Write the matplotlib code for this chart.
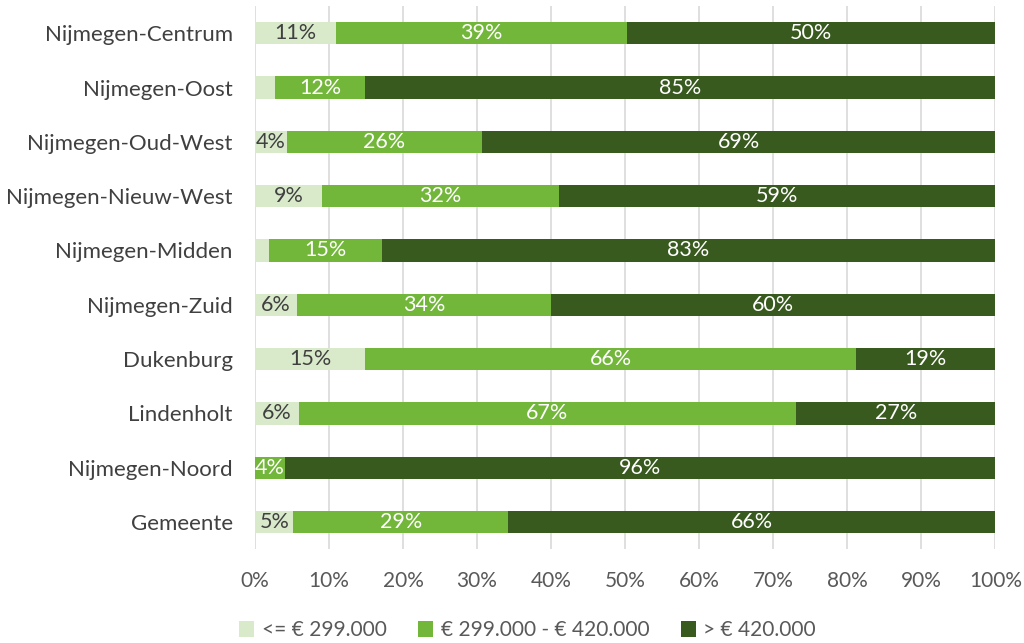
import matplotlib.pyplot as plt
import numpy as np

plt.rcParams['font.family'] = ['Lato', 'DejaVu Sans']

regions = ['Nijmegen-Centrum', 'Nijmegen-Oost', 'Nijmegen-Oud-West', 'Nijmegen-Nieuw-West',
           'Nijmegen-Midden', 'Nijmegen-Zuid', 'Dukenburg', 'Lindenholt', 'Nijmegen-Noord', 'Gemeente']
low = [10.9, 2.7, 4.3, 9.1, 1.9, 5.7, 14.9, 5.9, 0.0, 5.2]
mid = [39.4, 12.2, 26.4, 31.9, 15.2, 34.3, 66.3, 67.2, 4.1, 29.0]
high = [49.7, 85.1, 69.3, 59.0, 82.9, 60.0, 18.8, 26.9, 95.9, 65.8]
series_names = ['<= € 299.000', '€ 299.000 - € 420.000', '> € 420.000']
colors = ['#D9EACB', '#72B63A', '#385A1E']
label_colors = ['#404040', 'white', 'white']

fig = plt.figure(figsize=(10.24, 6.43), dpi=100)
ax = fig.add_axes([0.249, 0.146, 0.723, 0.8445])

y = np.arange(len(regions))
left = np.zeros(len(regions))
handles = []
for vals, name, col, lc in zip([low, mid, high], series_names, colors, label_colors):
    vals = np.array(vals, dtype=float)
    bars = ax.barh(y, vals, left=left, height=0.41, color=col, label=name, zorder=3)
    handles.append(bars)
    for yi, l, v in zip(y, left, vals):
        if v >= 3.5:
            ax.text(l + v / 2, yi, f'{round(v)}%', ha='center', va='center',
                    color=lc, fontsize=15.5, zorder=4)
    left += vals

ax.set_xlim(0, 100)
ax.set_ylim(len(regions) - 0.5, -0.5)
ax.set_yticks(y)
ax.set_yticklabels(regions, fontsize=16, color='#404040')
ax.set_xticks(np.arange(0, 101, 10))
ax.set_xticklabels([f'{v}%' for v in range(0, 101, 10)], fontsize=15, color='#595959')
ax.tick_params(length=0)
ax.tick_params(axis='x', pad=16)
ax.tick_params(axis='y', pad=16)
ax.grid(axis='x', color='#D9D9D9', linewidth=1.2, zorder=0)
for s in ax.spines.values():
    s.set_visible(False)

fig.legend(handles=handles, labels=series_names, loc='lower center', ncol=3,
           bbox_to_anchor=(0.515, -0.025), frameon=False, fontsize=15,
           handlelength=0.75, handleheight=0.75, columnspacing=1.5, handletextpad=0.35,
           labelcolor='#595959')

fig.savefig('out.png', dpi=100)
